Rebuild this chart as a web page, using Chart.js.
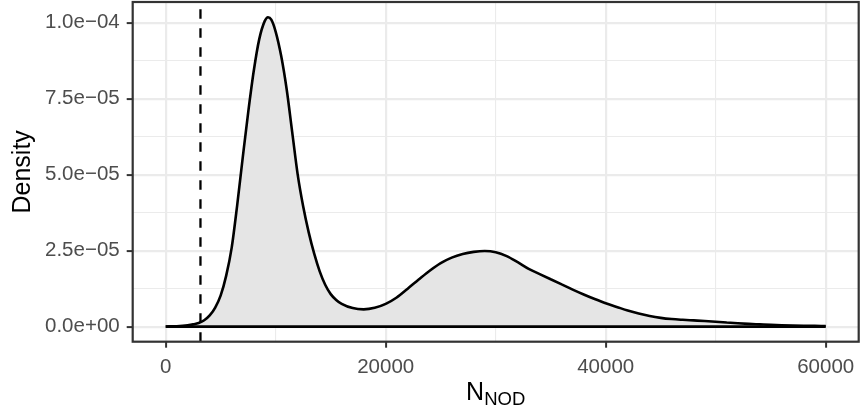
<!DOCTYPE html>
<html><head><meta charset="utf-8">
<script src="https://cdn.jsdelivr.net/npm/chart.js@4.4.1/dist/chart.umd.min.js"></script>
<style>html,body{margin:0;padding:0;background:#fff;}</style>
</head><body>
<canvas id="c" width="860" height="411"></canvas>
<script>
// ---- data ----
const nNod = [0,1000,2000,2500,3000,3500,4000,4500,5000,5500,6000,6500,7000,7500,8000,8500,9000,9300,9600,10000,10500,11000,11500,12000,12500,13000,13500,14000,14500,15000,15500,16000,17000,18000,19000,20000,21000,22000,23000,24000,25000,26000,27000,28000,29000,30000,31000,32000,33000,34000,35000,36000,37000,38000,39000,40000,41000,42000,43000,44000,45000,46000,47000,48000,49000,50000,51000,52000,53000,54000,55000,56000,57000,58000,59000,60000];
const density = [0.05e-6,0.15e-6,0.45e-6,0.75e-6,1.2e-6,2.1e-6,3.7e-6,6.3e-6,10.3e-6,16.8e-6,26e-6,40e-6,55.5e-6,70.5e-6,84e-6,94.5e-6,100.5e-6,101.8e-6,101e-6,97e-6,89e-6,78e-6,64e-6,50e-6,39.5e-6,31e-6,24e-6,18.2e-6,13.8e-6,10.7e-6,8.8e-6,7.5e-6,6.1e-6,5.7e-6,6.2e-6,7.5e-6,9.6e-6,12.5e-6,15.5e-6,18.4e-6,20.9e-6,22.7e-6,23.9e-6,24.6e-6,24.9e-6,24.5e-6,23.2e-6,21.2e-6,19.0e-6,17.3e-6,15.6e-6,13.9e-6,12.2e-6,10.6e-6,9.1e-6,7.7e-6,6.5e-6,5.3e-6,4.3e-6,3.5e-6,2.9e-6,2.5e-6,2.25e-6,2.05e-6,1.85e-6,1.6e-6,1.35e-6,1.1e-6,0.9e-6,0.75e-6,0.6e-6,0.48e-6,0.38e-6,0.3e-6,0.24e-6,0.2e-6];
const vlineX = 3160;
const xTickValues = [0,20000,40000,60000];
const xTickLabels = ['0','20000','40000','60000'];
const xMinorValues = [10000,30000,50000];
const yTickValues = [0,2.5e-5,5e-5,7.5e-5,1e-4];
const yTickLabels = ['0.0e+00','2.5e\u221205','5.0e\u221205','7.5e\u221205','1.0e\u221204'];
const yMinorValues = [1.25e-5,3.75e-5,6.25e-5,8.75e-5];
const xTitleMain = 'N';
const xTitleSub = 'NOD';
const yTitle = 'Density';

// ---- chart ----
const FONT = "'Liberation Sans', Arial, sans-serif";
const near = (a,b)=>Math.abs(a-b) <= Math.max(Math.abs(b),1)*1e-6 + 1e-12;
const isMajor = (vals,v)=>vals.some(t=>near(v,t));
const labelFor = (vals,labs,v)=>{const i=vals.findIndex(t=>near(v,t));return i>=0?labs[i]:'';};

const curve = nNod.map((x,i)=>({x:x,y:density[i]}));
const baseline = [{x:nNod[0],y:0},{x:nNod[nNod.length-1],y:0}];

const panelPlugin = {
  id:'panel',
  afterDatasetsDraw(chart){
    const {ctx, chartArea:a, scales:{x}} = chart;
    ctx.save();
    ctx.beginPath(); ctx.rect(a.left,a.top,a.right-a.left,a.bottom-a.top); ctx.clip();
    const px = x.getPixelForValue(vlineX);
    ctx.strokeStyle='#000'; ctx.lineWidth=2.3; ctx.setLineDash([9.5,9.5]);
    ctx.beginPath(); ctx.moveTo(px,a.bottom); ctx.lineTo(px,a.top); ctx.stroke();
    ctx.restore();
    ctx.save();
    ctx.strokeStyle='#333333'; ctx.lineWidth=2.2;
    ctx.strokeRect(a.left,a.top,a.right-a.left,a.bottom-a.top);
    ctx.restore();
  },
  afterDraw(chart){
    const {ctx, chartArea:a} = chart;
    ctx.save();
    ctx.fillStyle='#000';
    const fMain = '25px '+FONT, fSub = '18.5px '+FONT;
    ctx.font=fMain; const w1=ctx.measureText(xTitleMain).width;
    ctx.font=fSub; const w2=ctx.measureText(xTitleSub).width;
    const cx=(a.left+a.right)/2, start=cx-(w1+w2)/2;
    ctx.textBaseline='alphabetic'; ctx.textAlign='left';
    ctx.font=fMain; ctx.fillText(xTitleMain,start,400);
    ctx.font=fSub; ctx.fillText(xTitleSub,start+w1,405);
    ctx.translate(30,(a.top+a.bottom)/2);
    ctx.rotate(-Math.PI/2);
    ctx.font=fMain; ctx.textAlign='center';
    ctx.fillText(yTitle,0,0);
    ctx.restore();
  }
};

new Chart(document.getElementById('c'),{
  type:'line',
  data:{datasets:[
    {data:curve,order:1,borderColor:'#000',borderWidth:2.6,backgroundColor:'#e5e5e5',fill:'origin',pointRadius:0,cubicInterpolationMode:'monotone'},
    {data:baseline,order:0,borderColor:'#000',borderWidth:2.6,pointRadius:0,fill:false}
  ]},
  options:{
    responsive:false,animation:false,devicePixelRatio:1,
    layout:{padding:{top:2,right:1.3,left:0,bottom:0}},
    plugins:{legend:{display:false},tooltip:{enabled:false}},
    scales:{
      x:{type:'linear',min:-3000,max:63000,
        afterBuildTicks(s){s.ticks=[...xTickValues,...xMinorValues].sort((p,q)=>p-q).map(v=>({value:v}));},
        afterFit(s){s.height=69.3;s.paddingLeft=0;s.paddingRight=0;},
        ticks:{autoSkip:false,maxRotation:0,padding:7,color:'#4d4d4d',font:{family:FONT,size:20.5},
          callback:(v)=>labelFor(xTickValues,xTickLabels,v)},
        grid:{color:'#ebebeb',lineWidth:(c)=>isMajor(xTickValues,c.tick.value)?2.2:1.1,
          tickColor:(c)=>isMajor(xTickValues,c.tick.value)?'#333333':'rgba(0,0,0,0)',tickLength:6,tickWidth:2},
        border:{display:false}
      },
      y:{type:'linear',min:-4.95e-6,max:1.068e-4,
        afterBuildTicks(s){s.ticks=[...yTickValues,...yMinorValues].sort((p,q)=>p-q).map(v=>({value:v}));},
        afterFit(s){s.width=132.7;s.paddingTop=0;s.paddingBottom=0;},
        ticks:{autoSkip:false,padding:7,color:'#4d4d4d',font:{family:FONT,size:20.5},
          callback:(v)=>labelFor(yTickValues,yTickLabels,v)},
        grid:{color:'#ebebeb',lineWidth:(c)=>isMajor(yTickValues,c.tick.value)?2.2:1.1,
          tickColor:(c)=>isMajor(yTickValues,c.tick.value)?'#333333':'rgba(0,0,0,0)',tickLength:6,tickWidth:2},
        border:{display:false}
      }
    }
  },
  plugins:[panelPlugin]
});
</script>
</body></html>
